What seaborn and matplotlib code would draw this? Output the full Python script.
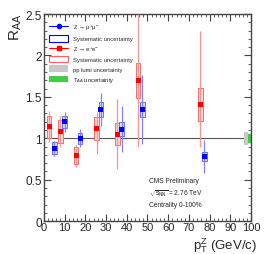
import numpy as np
import pandas as pd
import matplotlib
matplotlib.use("Agg")
import matplotlib.pyplot as plt
from matplotlib.patches import Rectangle, Patch
from matplotlib.lines import Line2D
from matplotlib.ticker import MultipleLocator
import seaborn as sns

# ---- data ----
pt_ee = [2.5, 8.0, 15.5, 25.5, 35.5, 45.5, 75.5]
r_ee = [1.14, 1.08, 0.79, 1.12, 1.05, 1.70, 1.41]
stat_ee_lo = [0.19, 0.18, 0.14, 0.31, 0.42, 0.81, 0.52]
stat_ee_hi = [0.19, 0.19, 0.13, 0.20, 0.42, 0.80, 0.89]
sys_ee = [0.135, 0.135, 0.105, 0.135, 0.135, 0.21, 0.20]

pt_mm = [5.0, 10.0, 17.5, 27.5, 37.5, 47.5, 77.5]
r_mm = [0.88, 1.20, 1.00, 1.35, 1.11, 1.35, 0.78]
stat_mm = [0.09, 0.12, 0.11, 0.20, 0.28, 0.42, 0.20]
sys_mm = [0.07, 0.07, 0.065, 0.09, 0.085, 0.09, 0.05]

lumi_unc = 0.08   # pp lumi uncertainty band
taa_unc = 0.055   # T_AA uncertainty band

df = pd.concat([
    pd.DataFrame({"pt": pt_ee, "R": r_ee, "ch": "ee"}),
    pd.DataFrame({"pt": pt_mm, "R": r_mm, "ch": "mm"}),
], ignore_index=True)

sns.set_style("ticks")
plt.rcParams['font.family'] = ['Liberation Sans', 'DejaVu Sans']
plt.rcParams['mathtext.fontset'] = 'custom'
plt.rcParams['mathtext.rm'] = 'Liberation Sans'
plt.rcParams['mathtext.it'] = 'Liberation Sans'

fig = plt.figure(figsize=(2.66, 2.55), dpi=100)
ax = fig.add_axes([0.165, 0.129, 0.779, 0.812])

RED = "#ff0000"
BLUE = "#0000ff"
hw = 1.1  # half width of systematic boxes

# reference line at 1
ax.axhline(1.0, color="#555555", lw=0.8, zorder=1)

# systematic boxes
for x, y, s in zip(pt_ee, r_ee, sys_ee):
    ax.add_patch(Rectangle((x - hw, y - s), 2 * hw, 2 * s, facecolor="#ffdcdc",
                           edgecolor="#ff6a6a", lw=0.7, zorder=2))
for x, y, s in zip(pt_mm, r_mm, sys_mm):
    ax.add_patch(Rectangle((x - hw, y - s), 2 * hw, 2 * s, facecolor="#dcdcff",
                           edgecolor="#6a6aff", lw=0.7, zorder=2))

# statistical error bars
ax.errorbar(pt_ee, r_ee, yerr=[stat_ee_lo, stat_ee_hi], fmt="none",
            ecolor="#ff9090", elinewidth=0.9, capsize=0, zorder=3)
ax.errorbar(pt_mm, r_mm, yerr=stat_mm, fmt="none",
            ecolor="#8080ff", elinewidth=0.9, capsize=0, zorder=3)

# points via seaborn
sns.scatterplot(data=df, x="pt", y="R", hue="ch", style="ch",
                palette={"ee": RED, "mm": BLUE}, markers={"ee": "s", "mm": "s"},
                s=13, linewidth=0, legend=False, ax=ax, zorder=4)

# global uncertainty bands
ax.add_patch(Rectangle((96.8, 1 - lumi_unc), 1.8, 2 * lumi_unc,
                       facecolor="#c8c8c8", edgecolor="none", zorder=2))
ax.add_patch(Rectangle((98.6, 1 - taa_unc), 1.4, 2 * taa_unc,
                       facecolor="#44cc44", edgecolor="none", zorder=2))

ax.set_xlim(0, 100)
ax.set_ylim(0, 2.5)
ax.xaxis.set_major_locator(MultipleLocator(10))
ax.xaxis.set_minor_locator(MultipleLocator(2))
ax.yaxis.set_major_locator(MultipleLocator(0.5))
ax.yaxis.set_minor_locator(MultipleLocator(0.1))
ax.set_yticks([0, 0.5, 1, 1.5, 2, 2.5])
ax.set_yticklabels(["0", "0.5", "1", "1.5", "2", "2.5"])
ax.tick_params(which="both", direction="in", top=True, right=True,
               pad=1.5, color="#444444")
ax.tick_params(axis="x", labelsize=8, pad=1.0)
ax.tick_params(axis="y", labelsize=8.5)
ax.tick_params(which="major", length=5, width=0.8)
ax.tick_params(which="minor", length=2.5, width=0.6)
for sp in ax.spines.values():
    sp.set_color("#444444")
    sp.set_linewidth(1.0)

ax.set_xlabel("")
ax.set_ylabel("")
fig.text(0.968, 0.0, r"p$_{\mathrm{T}}^{\mathrm{Z}}$ (GeV/c)", ha="right",
         va="bottom", fontsize=9.5)
fig.text(0.03, 0.945, r"R$_{\mathrm{AA}}$", ha="left", va="top",
         rotation=90, fontsize=11)

# legend
handles = [
    Line2D([0], [0], color=BLUE, marker="o", markersize=3, lw=0.8),
    Patch(facecolor="white", edgecolor=BLUE, lw=0.8),
    Line2D([0], [0], color=RED, marker="s", markersize=3, lw=0.8),
    Patch(facecolor="white", edgecolor="#ff6060", lw=0.8),
    Patch(facecolor="#c8c8c8", edgecolor="none"),
    Patch(facecolor="#44cc44", edgecolor="none"),
]
labels = [
    r"Z → μ$^{+}$μ$^{-}$",
    "Systematic uncertainty",
    r"Z → e$^{+}$e$^{-}$",
    "Systematic uncertainty",
    "pp lumi uncertainty",
    r"T$_{\mathrm{AA}}$ uncertainty",
]
ax.legend(handles, labels, loc="upper left", bbox_to_anchor=(0.01, 0.975),
          frameon=False, fontsize=4.2, handlelength=3.2, handleheight=1.4,
          labelspacing=0.5, handletextpad=0.8, borderaxespad=0.2)

# annotations
ax.text(50.5, 0.49, "CMS Preliminary", fontsize=4.8, ha="left", va="center")
ax.text(50.5, 0.35, r"$\sqrt{s_{\mathrm{NN}}}$ = 2.76 TeV", fontsize=4.8,
        ha="left", va="center")
ax.text(50.5, 0.2, "Centrality 0-100%", fontsize=4.8, ha="left", va="center")

fig.savefig("out.png", dpi=100)
